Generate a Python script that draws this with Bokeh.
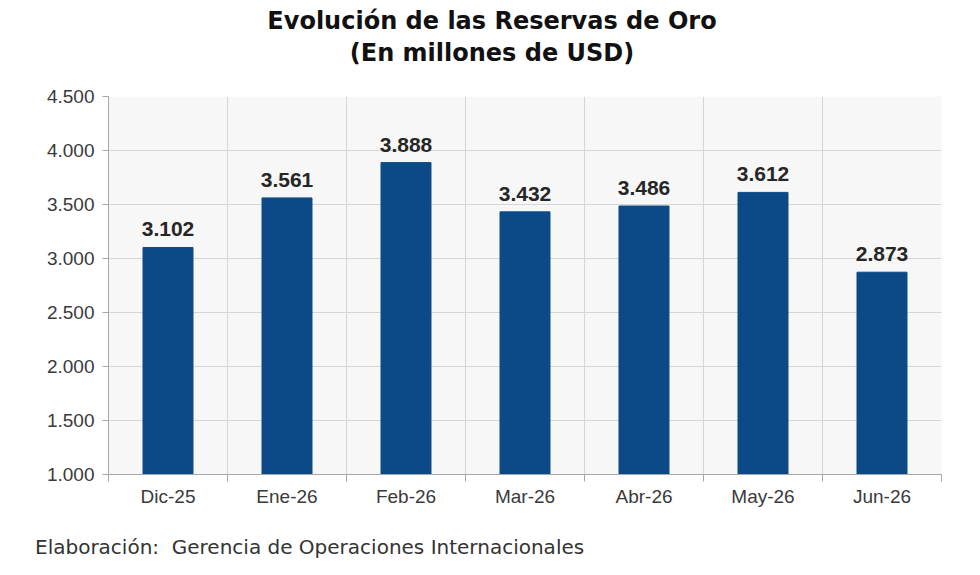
from bokeh.plotting import figure
from bokeh.layouts import column
from bokeh.models import ColumnDataSource, FixedTicker, Range1d, Div
from bokeh.core.properties import value
from bokeh.embed import file_html
from bokeh.resources import INLINE

meses = ["Dic-25", "Ene-26", "Feb-26", "Mar-26", "Abr-26", "May-26", "Jun-26"]
reservas = [3102, 3561, 3888, 3432, 3486, 3612, 2873]
y_ticks = [1000, 1500, 2000, 2500, 3000, 3500, 4000, 4500]

titulo = "Evolución de las Reservas de Oro"
subtitulo = "(En millones de USD)"
fuente = "Elaboración:  Gerencia de Operaciones Internacionales"

W = 972


def miles(n):
    return f"{n:,}".replace(",", ".")


src = ColumnDataSource(data=dict(
    x=[i + 0.5 for i in range(len(meses))],
    y=reservas,
    label=[miles(v) for v in reservas],
))

cabecera = Div(text=f"{titulo}<br>{subtitulo}", width=W, height=76, margin=0,
               styles={"font-family": "DejaVu Sans", "font-size": "24px", "font-weight": "bold",
                       "color": "#111111", "text-align": "center", "line-height": "32px",
                       "padding-top": "5px", "padding-left": "12px", "box-sizing": "border-box"})

p = figure(width=W, height=458, output_backend="svg", toolbar_location=None,
           x_range=Range1d(0, len(meses)), y_range=Range1d(1000, 4500),
           min_border_left=108, min_border_right=31, min_border_top=20, min_border_bottom=60)
p.background_fill_color = "#f7f7f7"
p.border_fill_color = "white"
p.outline_line_color = None

p.vbar(x="x", top="y", bottom=1000, width=0.42, source=src, color="#0c4a87")
p.text(x="x", y="y", text="label", source=src, text_align="center", text_baseline="bottom",
       y_offset=-11, text_font_size="21px", text_font_style="bold", text_color="#262626",
       text_font=value("Liberation Sans"))

# eje x: etiquetas centradas, marcas en los limites
p.xaxis.ticker = FixedTicker(ticks=src.data["x"], minor_ticks=list(range(len(meses) + 1)))
p.xaxis.major_label_overrides = {x: m for x, m in zip(src.data["x"], meses)}
p.xaxis.major_tick_line_color = None
p.xaxis.minor_tick_in = 0
p.xaxis.minor_tick_out = 7
p.xaxis.minor_tick_line_color = "#a6a6a6"
p.xgrid.ticker = FixedTicker(ticks=list(range(len(meses) + 1)))

p.yaxis.ticker = FixedTicker(ticks=y_ticks)
p.yaxis.major_label_overrides = {t: miles(t) for t in y_ticks}
p.yaxis.minor_tick_line_color = None
p.yaxis.major_tick_in = 0
p.yaxis.major_tick_out = 6
p.yaxis.major_tick_line_color = "#a6a6a6"

for ax in (p.xaxis, p.yaxis):
    ax.axis_line_color = "#a6a6a6"
    ax.major_label_text_font = "Liberation Sans"
    ax.major_label_text_font_size = "19px"
    ax.major_label_text_color = "#3a3a3a"
p.xaxis.major_label_standoff = 4
p.yaxis.major_label_standoff = 8

p.grid.grid_line_color = "#d6d6d6"
p.grid.grid_line_width = 1

pie = Div(text=fuente, width=W, height=33, margin=0,
          styles={"font-family": "DejaVu Sans", "font-size": "20px", "color": "#333333",
                  "line-height": "26px", "white-space": "pre", "padding-left": "35px",
                  "box-sizing": "border-box"})

layout = column(cabecera, p, pie, spacing=0)

open("out.html", "w").write(file_html(layout, INLINE))
